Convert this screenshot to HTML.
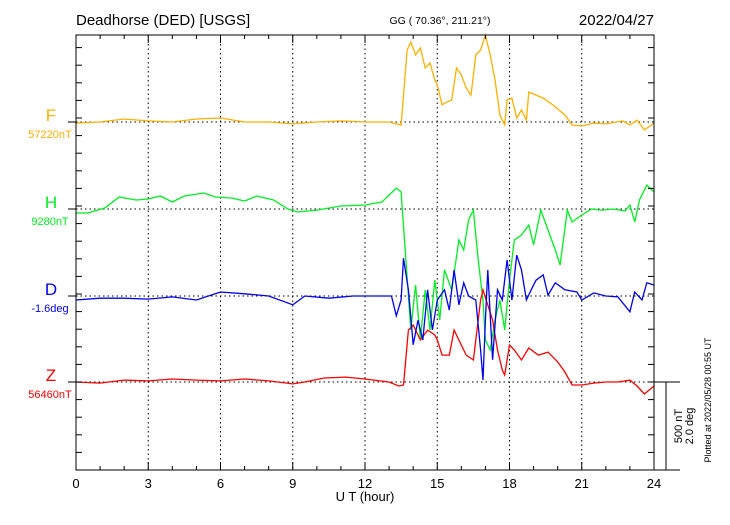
<!DOCTYPE html>
<html><head><meta charset="utf-8"><style>
body{margin:0;background:#fff;}
svg text{font-family:"Liberation Sans",sans-serif;}
</style></head><body>
<svg id="chart" width="730" height="520" xmlns="http://www.w3.org/2000/svg">
<text x="76" y="25" font-size="15">Deadhorse (DED)  [USGS]</text>
<text x="440" y="24" font-size="10.5" text-anchor="middle">GG ( 70.36°, 211.21°)</text>
<text x="654" y="25" font-size="15" text-anchor="end">2022/04/27</text>
<g id="grid"></g>
<g id="series"></g>
<rect x="76" y="35" width="578" height="435" fill="none" stroke="#000" stroke-width="1"/>
<g id="ticks"></g>
<text x="365" y="501" font-size="13" text-anchor="middle">U T (hour)</text>
<line x1="666" y1="382" x2="666" y2="470" stroke="#000"/>
<line x1="654" y1="382" x2="680" y2="382" stroke="#000"/>
<line x1="654" y1="470" x2="680" y2="470" stroke="#000"/>
<text transform="translate(682,426) rotate(-90)" font-size="11" text-anchor="middle">500 nT</text>
<text transform="translate(693,426) rotate(-90)" font-size="11" text-anchor="middle">2.0 deg</text>
<text transform="translate(711,400) rotate(-90)" font-size="9" text-anchor="middle">Plotted at 2022/05/28 00:55 UT</text>
</svg>
<script>
const xTicks=[0,3,6,9,12,15,18,21,24];
const fT=[0,1,2,3,4,5,6,7,8,9,10,11,12,13,13.5,13.75,13.9,14.1,14.3,14.5,14.7,14.9,15,15.2,15.4,15.6,15.8,16,16.2,16.4,16.6,16.8,17,17.1,17.2,17.4,17.6,17.8,17.9,18.1,18.3,18.5,18.7,18.8,19.1,19.4,19.8,20.3,20.6,21,21.5,22,22.7,23,23.3,23.6,24];
const fV=[-6,0,17,6,0,17,23,0,0,-11,0,6,0,0,-17,409,454,381,420,307,335,239,210,97,114,125,307,267,193,153,381,409,494,437,381,239,40,-17,125,136,23,68,11,170,153,136,97,40,-17,-23,-6,-11,6,-17,11,-45,-6];
const hT=[0,0.5,1.2,1.8,2.5,3,3.5,4,4.5,5.3,5.8,6.5,7,7.5,8.2,8.8,9.2,10,11,12,12.7,13.3,13.5,13.7,13.9,14.1,14.3,14.5,14.7,14.9,15.1,15.3,15.6,15.9,16.1,16.3,16.5,16.7,16.9,17.0,17.2,17.4,17.6,17.8,18.0,18.2,18.5,18.8,19.0,19.3,19.6,19.9,20.1,20.4,20.6,21,21.4,21.8,22.3,22.8,23,23.2,23.4,23.7,24];
const hV=[-23,-23,6,68,51,57,74,40,74,91,68,62,45,74,51,0,-17,-6,17,23,40,119,97,-290,-687,-432,-744,-460,-687,-403,-630,-346,-460,-176,-233,-62,-6,-290,-517,-744,-801,-630,-517,-687,-403,-176,-148,-91,-204,-6,-119,-233,-318,-6,-74,-34,0,-6,0,-11,23,-74,51,136,97];
const dT=[0,1,2,3,4,5,6,7,8,9,9.5,10.5,11.5,12.5,13.1,13.3,13.5,13.6,13.8,14.0,14.2,14.4,14.6,14.8,15.0,15.3,15.5,15.7,15.9,16.1,16.3,16.6,16.8,16.9,17.0,17.1,17.3,17.5,17.7,17.9,18.1,18.3,18.5,18.7,18.9,19.1,19.4,19.6,19.9,20.3,20.8,21,21.5,22,22.5,23,23.2,23.5,23.7,24];
const dV=[-0.09,-0.05,-0.05,-0.07,-0.02,-0.09,0.09,0.05,0,-0.2,0,-0.05,0,0,0,-0.45,-0.09,0.86,0.14,-1.11,-0.55,-1.0,0.14,-0.77,-0.09,0.14,-0.32,0.59,-0.2,0.3,0,-0.09,-1.23,-1.91,-0.55,0.59,-1.45,0.14,-0.09,0.82,-0.09,0.93,0.59,-0.09,0.14,0.36,0.48,0.02,0.3,0.14,0.09,-0.09,0.07,0,-0.02,-0.36,0.09,-0.09,0.3,0.25];
const zT=[0,1,2,3,4,5,6,7,8,9,9.5,10.3,11.2,12,13,13.4,13.6,13.8,14.0,14.3,14.6,14.9,15.0,15.2,15.5,15.7,16.0,16.2,16.5,16.8,16.9,17.1,17.3,17.5,17.7,17.8,18.0,18.2,18.5,18.8,19.2,19.6,20,20.3,20.6,21,21.5,22,22.5,23,23.3,23.6,24];
const zV=[0,-6,11,6,17,11,6,17,6,-11,0,23,28,17,0,-23,-17,295,324,239,295,267,239,153,153,295,210,153,125,466,523,437,352,182,68,40,210,182,125,193,153,170,114,57,-17,-17,-6,0,0,11,-23,-68,-23];
const comps=[
 {name:'F',base:'57220nT',color:'#ffb000',y0:122,t:fT,v:fV,per:500},
 {name:'H',base:'9280nT',color:'#00ee22',y0:209,t:hT,v:hV,per:500},
 {name:'Z',base:'56460nT',color:'#ff0000',y0:382,t:zT,v:zV,per:500},
 {name:'D',base:'-1.6deg',color:'#0000ee',y0:296,t:dT,v:dV,per:2.0}
];
const NS='http://www.w3.org/2000/svg';
const X0=76,X1=654;
function xs(h){return X0+(X1-X0)*h/24;}
function ys(v,c){return c.y0-v*88/c.per;}
function mk(tag,attrs,parent){const e=document.createElementNS(NS,tag);for(const k in attrs)e.setAttribute(k,attrs[k]);parent.appendChild(e);return e;}
const grid=document.getElementById('grid'),ticks=document.getElementById('ticks'),ser=document.getElementById('series');
xTicks.forEach(h=>{
 if(h>0&&h<24){const l=mk('line',{x1:xs(h),x2:xs(h),y1:35,y2:470,stroke:'#000','stroke-dasharray':'1.5,3'},grid);
 
 }
 const t=mk('text',{x:xs(h),y:488,'font-size':13,'text-anchor':'middle'},ticks);t.textContent=h;
 
 
});
for(let h=0;h<=24;h++){const len=(h%3===0)?8:4;
 mk('line',{x1:xs(h),x2:xs(h),y1:470,y2:470-len,stroke:'#000'},ticks);
 mk('line',{x1:xs(h),x2:xs(h),y1:35,y2:35+len,stroke:'#000'},ticks);}
for(let y=382-17.6*19;y<=470;y+=17.6){if(y<35)continue;
 mk('line',{x1:X1,x2:X1-6,y1:y,y2:y,stroke:'#000'},ticks);
 mk('line',{x1:X0,x2:X0+6,y1:y,y2:y,stroke:'#000'},ticks);}
comps.forEach(c=>{
 const g=mk('line',{x1:X0,x2:X1,y1:c.y0,y2:c.y0,stroke:'#000','stroke-dasharray':'1.5,3'},grid);
 
 
 mk('line',{x1:X0-8,x2:X0,y1:c.y0,y2:c.y0,stroke:'#000'},ticks);
 const lab=mk('text',{x:51,y:c.y0-1,'font-size':17,'text-anchor':'middle',fill:c.color},ticks);lab.textContent=c.name;
 
 
 const b=mk('text',{x:50,y:c.y0+16,'font-size':11,'text-anchor':'middle',fill:c.color},ticks);b.textContent=c.base;
 
 
 const pts=c.t.map((t,i)=>xs(t).toFixed(1)+','+ys(c.v[i],c).toFixed(1)).join(' ');
 const p=mk('polyline',{points:pts,fill:'none',stroke:c.color,'stroke-width':1.3},ser);
 
 
});
</script>
</body></html>
